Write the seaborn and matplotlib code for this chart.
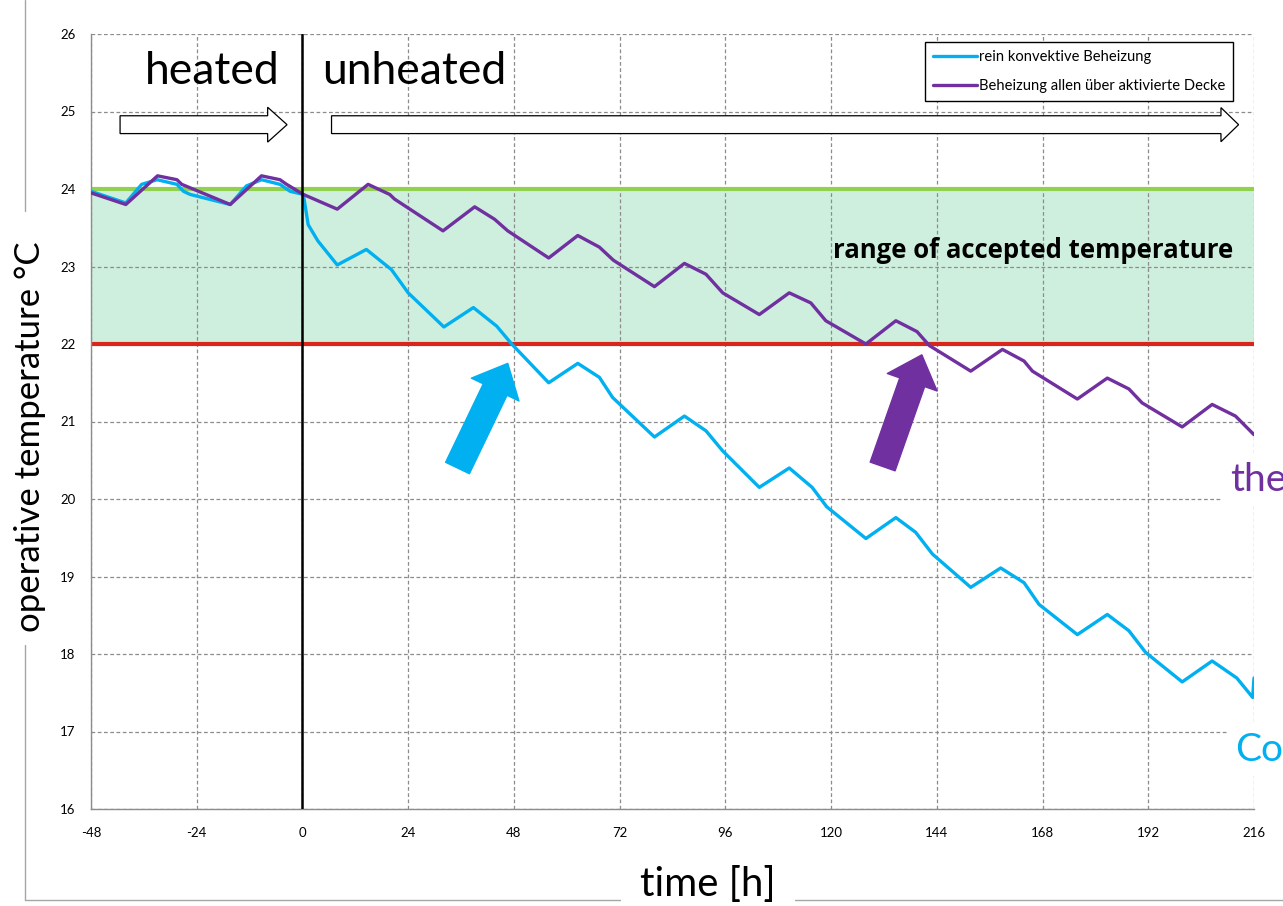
import matplotlib
matplotlib.use("Agg")
import matplotlib.pyplot as plt
from matplotlib.lines import Line2D
from matplotlib.patches import FancyArrow
import seaborn as sns
import pandas as pd

# -------------------------------------------------------
# Data
# -------------------------------------------------------
label_conv = "rein konvektive Beheizung"
label_ceil = "Beheizung allen über aktivierte Decke"

hours_conv = [-48, -40.1, -36.5, -33.0, -28.5, -27.0, -25.5, -16.4, -12.7, -9.3, -5.1, -2.8,
              0.2, 1.3, 3.5, 7.9, 14.5, 20.2, 24.0, 32.1, 38.8, 44.1, 47.5, 55.9, 62.5, 67.4,
              70.4, 79.9, 86.7, 91.6, 95.4, 103.7, 110.5, 115.7, 119.0, 127.9, 134.7, 139.2,
              143.0, 151.7, 158.5, 163.8, 167.2, 175.9, 182.7, 187.6, 191.4, 199.7, 206.5,
              212.1, 215.7, 216.0]
temp_conv = [23.97, 23.82, 24.06, 24.12, 24.06, 23.97, 23.93, 23.80, 24.04, 24.12, 24.06, 23.97,
             23.93, 23.54, 23.33, 23.02, 23.22, 22.96, 22.66, 22.22, 22.47, 22.23, 22.00, 21.50,
             21.75, 21.57, 21.31, 20.80, 21.07, 20.88, 20.62, 20.15, 20.40, 20.15, 19.90, 19.49,
             19.76, 19.57, 19.29, 18.86, 19.11, 18.92, 18.64, 18.25, 18.51, 18.30, 18.02, 17.64,
             17.91, 17.69, 17.44, 17.69]

hours_ceil = [-48, -40.1, -32.9, -28.5, -27.4, -16.4, -9.3, -5.1, -3.6, 0.2, 7.9, 14.9, 19.8,
              20.9, 31.9, 39.1, 43.6, 46.6, 55.9, 62.5, 67.4, 70.6, 79.9, 86.7, 91.6, 95.4,
              103.7, 110.5, 115.4, 118.8, 127.9, 134.7, 139.5, 142.3, 151.7, 158.9, 163.8,
              165.7, 175.9, 182.7, 187.6, 190.6, 199.7, 206.5, 211.8, 216.0]
temp_ceil = [23.95, 23.80, 24.17, 24.12, 24.06, 23.80, 24.17, 24.12, 24.06, 23.93, 23.74, 24.06,
             23.93, 23.87, 23.46, 23.77, 23.61, 23.46, 23.11, 23.40, 23.25, 23.08, 22.74, 23.04,
             22.90, 22.66, 22.38, 22.66, 22.53, 22.30, 22.00, 22.30, 22.16, 21.98, 21.65, 21.93,
             21.78, 21.65, 21.29, 21.56, 21.42, 21.24, 20.93, 21.22, 21.07, 20.83]

x_ticks = list(range(-48, 217, 24))
y_ticks = list(range(16, 27))
accepted_low, accepted_high = 22, 24

df = pd.concat([
    pd.DataFrame({"time": hours_conv, "temp": temp_conv, "series": label_conv}),
    pd.DataFrame({"time": hours_ceil, "temp": temp_ceil, "series": label_ceil}),
])

cyan = "#00B0F0"
purple = "#7030A0"

# -------------------------------------------------------
# Figure / axes
# -------------------------------------------------------
sns.set_style("white")
plt.rcParams["font.family"] = ["Lato", "DejaVu Sans"]
plt.rcParams["axes.unicode_minus"] = False
plt.rcParams["text.color"] = "black"

fig = plt.figure(figsize=(12.83, 9.06), dpi=100)
ax = fig.add_axes([91 / 1283, 1 - 809 / 906, (1254 - 91) / 1283, (809 - 34) / 906])

# accepted band and its limits
ax.axhspan(accepted_low, accepted_high, color="#CFEFDE", zorder=0.3, lw=0)
ax.axhline(accepted_high, color="#92D050", lw=3, zorder=2)
ax.axhline(accepted_low, color="#D9261C", lw=3, zorder=2)

sns.lineplot(data=df, x="time", y="temp", hue="series", estimator=None,
             palette={label_conv: cyan, label_ceil: purple}, lw=2.4, ax=ax, zorder=3)

ax.axvline(0, color="black", lw=1.8, zorder=4)

ax.set_xlim(-48, 216)
ax.set_ylim(16, 26)
ax.set_xticks(x_ticks)
ax.set_yticks(y_ticks)
ax.set_xlabel("")
ax.set_ylabel("")
ax.grid(True, color="#8C8C8C", ls=(0, (3, 2)), lw=0.9)
ax.set_axisbelow(True)
for s in ["top", "right"]:
    ax.spines[s].set_visible(False)
for s in ["left", "bottom"]:
    ax.spines[s].set_color("#8C8C8C")
    ax.spines[s].set_linewidth(1.0)
ax.tick_params(axis="both", labelsize=9.5, labelcolor="black", length=5,
               color="#8C8C8C", direction="out")
ax.tick_params(axis="x", pad=8)
ax.tick_params(axis="y", pad=6)

# legend
handles, labels = ax.get_legend_handles_labels()
leg = ax.legend(handles, labels, loc="upper right", bbox_to_anchor=(0.982, 0.990),
                fontsize=10.6, frameon=True, fancybox=False, edgecolor="black",
                framealpha=1, handlelength=3.0, handletextpad=0.1, borderpad=0.55,
                labelspacing=1.05, borderaxespad=0)
leg.get_frame().set_linewidth(1.0)

# hollow block arrows (heated / unheated)
ax.add_patch(FancyArrow(-41.4, 24.83, 37.9, 0, width=0.23, head_width=0.45,
                        head_length=4.4, length_includes_head=True,
                        facecolor="white", edgecolor="black", lw=0.9, zorder=5))
ax.add_patch(FancyArrow(6.6, 24.83, 205.9, 0, width=0.23, head_width=0.44,
                        head_length=4.0, length_includes_head=True,
                        facecolor="white", edgecolor="black", lw=0.9, zorder=5))

ax.text(-35.8, 25.36, "heated", fontsize=32, ha="left", va="baseline")
ax.text(4.5, 25.36, "unheated", fontsize=32, ha="left", va="baseline")

ax.text(211.2, 23.21, "range of accepted temperature", fontsize=18.5,
        fontweight="bold", family=["Open Sans", "DejaVu Sans"],
        ha="right", va="center", zorder=6)

# thick coloured arrows marking the leaving of the band
ax.annotate("", xy=(46.6, 21.75), xytext=(35.2, 20.40),
            arrowprops=dict(arrowstyle="simple,head_length=1.1,head_width=2.0,tail_width=1.0",
                            mutation_scale=19, color=cyan, shrinkA=0, shrinkB=0), zorder=6)
ax.annotate("", xy=(140.6, 21.86), xytext=(131.7, 20.42),
            arrowprops=dict(arrowstyle="simple,head_length=1.1,head_width=2.0,tail_width=1.0",
                            mutation_scale=19, color=purple, shrinkA=0, shrinkB=0), zorder=6)

# texts cut by the right edge
fig.text(1230 / 1283, 1 - 480 / 906, "the", fontsize=28, color=purple, ha="left",
         va="center", bbox=dict(facecolor="white", edgecolor="none", pad=6))
fig.text(1235 / 1283, 1 - 750 / 906, "Co", fontsize=28, color=cyan, ha="left",
         va="center", bbox=dict(facecolor="white", edgecolor="none", pad=6))

# outer chart-area border, with gaps for the axis titles
border = dict(color="#A6A6A6", lw=1.0)
fig.add_artist(Line2D([25 / 1283, 25 / 1283], [1 - 211 / 906, 1.0], **border))
fig.add_artist(Line2D([25 / 1283, 25 / 1283], [6 / 906, 1 - 645 / 906], **border))
fig.add_artist(Line2D([25 / 1283, 620 / 1283], [6 / 906, 6 / 906], **border))
fig.add_artist(Line2D([795 / 1283, 1.0], [6 / 906, 6 / 906], **border))

fig.text(30 / 1283, 1 - 437 / 906, "operative temperature °C", fontsize=25, rotation=90,
         ha="center", va="center")
fig.text(708 / 1283, 1 - 884 / 906, "time [h]", fontsize=29, ha="center", va="center")

fig.savefig("out.png", dpi=100)
